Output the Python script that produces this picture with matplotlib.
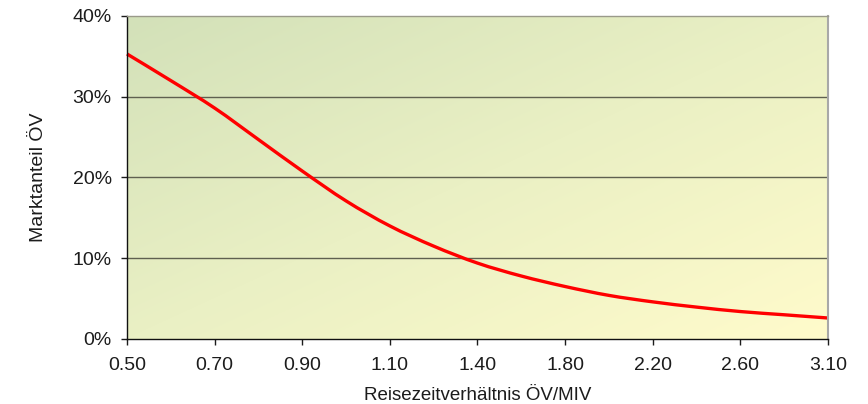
import numpy as np
import matplotlib
matplotlib.use("Agg")
import matplotlib.pyplot as plt
from matplotlib.path import Path
from matplotlib.patches import PathPatch
from matplotlib.colors import LinearSegmentedColormap

# ---- data ----
tick_labels = ["0.50", "0.70", "0.90", "1.10", "1.40", "1.80", "2.20", "2.60", "3.10"]
# curve read at every tick and halfway between ticks (category positions)
x_pos = [0, 0.5, 1, 1.5, 2, 2.5, 3, 3.5, 4, 4.5, 5, 5.5, 6, 6.5, 7, 7.5, 8]
share = [35.3, 32.0, 28.6, 24.7, 20.8, 17.1, 14.0, 11.5, 9.4, 7.8, 6.5, 5.4,
         4.6, 3.95, 3.4, 3.0, 2.6]
y_ticks = [0, 10, 20, 30, 40]

plt.rcParams['font.family'] = ['Liberation Sans', 'DejaVu Sans']

fig = plt.figure(figsize=(8.68, 4.04), dpi=100)
ax = fig.add_axes([0.1463, 0.1609, 0.8076, 0.7995])

# gradient background (top-left green -> bottom-right pale yellow)
n = 200
gx, gy = np.meshgrid(np.linspace(0, 1, n), np.linspace(0, 1, n))
g = (gx + gy) / 2.0
cmap = LinearSegmentedColormap.from_list("bg", ["#d3e1b9", "#eaf0c4", "#fffbcb"])
ax.imshow(g, cmap=cmap, extent=[0, 1, 0, 1], origin='upper', transform=ax.transAxes,
          aspect='auto', zorder=0, interpolation='bilinear')

ax.set_xlim(0, len(tick_labels) - 1)
ax.set_ylim(0, 40)

for v in y_ticks[1:-1]:
    ax.axhline(v, color='#5f6050', lw=1.0, zorder=1)

# smooth curve (Catmull-Rom style bezier through the data points)
xs = np.array(x_pos, float)
ys = np.array(share, float)
verts = [(xs[0], ys[0])]
codes = [Path.MOVETO]
for i in range(len(xs) - 1):
    p0 = np.array([xs[max(i - 1, 0)], ys[max(i - 1, 0)]])
    p1 = np.array([xs[i], ys[i]])
    p2 = np.array([xs[i + 1], ys[i + 1]])
    p3 = np.array([xs[min(i + 2, len(xs) - 1)], ys[min(i + 2, len(xs) - 1)]])
    c1 = p1 + (p2 - p0) / 6.0
    c2 = p2 - (p3 - p1) / 6.0
    verts += [tuple(c1), tuple(c2), tuple(p2)]
    codes += [Path.CURVE4] * 3
ax.add_patch(PathPatch(Path(verts, codes), facecolor='none', edgecolor='#ff0000',
                       lw=2.4, zorder=3, capstyle='butt', clip_on=False))

ax.set_xticks(range(len(tick_labels)))
ax.set_xticklabels(tick_labels)
ax.set_yticks(y_ticks)
ax.set_yticklabels([f"{v}%" for v in y_ticks])

ax.tick_params(axis='both', labelsize=14, colors='#1c1c1c', length=4, width=1,
               direction='out')
ax.tick_params(axis='x', pad=9)
ax.tick_params(axis='y', pad=7)

for s in ['left', 'bottom']:
    ax.spines[s].set_color('#111111')
    ax.spines[s].set_linewidth(1.0)
ax.spines['top'].set_color('#9a9a8a')
ax.spines['right'].set_color('#a8a8a8')
ax.spines['top'].set_linewidth(1.0)
ax.spines['right'].set_linewidth(1.5)
for s in ax.spines.values():
    s.set_zorder(4)

ax.set_xlabel("Reisezeitverhältnis ÖV/MIV", fontsize=13.5, color='#1c1c1c', labelpad=9)
ax.set_ylabel("Marktanteil ÖV", fontsize=14, color='#1c1c1c', labelpad=18)

fig.savefig("out.png", dpi=100)
